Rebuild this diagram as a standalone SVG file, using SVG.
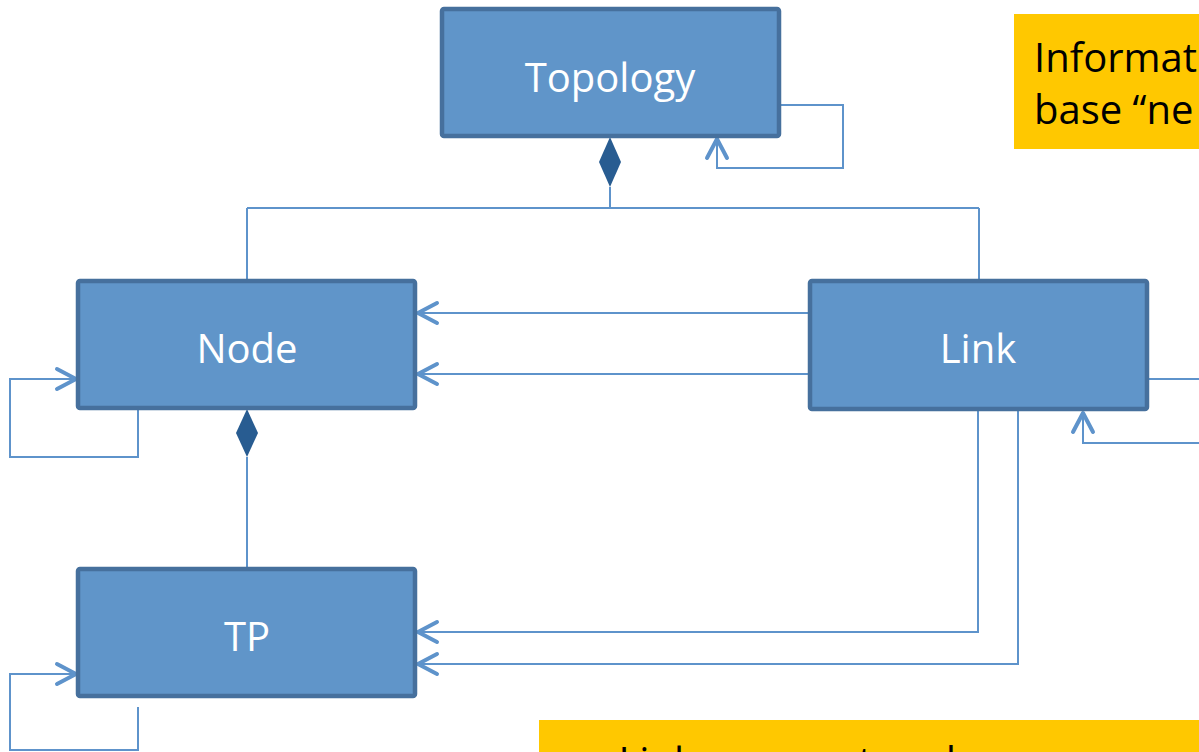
<svg xmlns="http://www.w3.org/2000/svg" width="1199" height="752" viewBox="0 0 1199 752">
<style>
.box{fill:#6095C9;stroke:#46709D;stroke-width:4.5}
.lbl{font-family:"Open Sans","Noto Sans",sans-serif;font-size:40px;fill:#FFFFFF;text-anchor:middle}
.note{fill:#FFC800}
.ntxt{font-family:"Open Sans","Noto Sans",sans-serif;font-size:40px;fill:#000000}
.conn{fill:none;stroke:#5E93CB;stroke-width:2}
.dia{fill:#285C91;stroke:none}
</style>
<defs>
<marker id="arr" markerUnits="userSpaceOnUse" markerWidth="30" markerHeight="30" viewBox="-25 -15 30 30" refX="0" refY="0" orient="auto">
<path d="M-19,-10 L0,0 L-19,10" fill="none" stroke="#5E93CB" stroke-width="4" stroke-linecap="round" stroke-linejoin="round"/>
</marker>
</defs>
<rect class="note" x="1014" y="14" width="190" height="135"/>
<text class="ntxt" x="1034" y="72">Informat</text>
<text class="ntxt" x="1034" y="124">base “ne</text>
<rect class="note" x="539" y="720" width="665" height="40"/>
<text class="ntxt" x="588" y="776">– Links connect nodes</text>
<g id="connectors">
<path class="conn" d="M610,187 V208 M247,208 H979 M247,208 V280 M979,208 V280"/>
<path class="conn" d="M779,105 H843 V168 H717 V139" marker-end="url(#arr)"/>
<path class="conn" d="M138,409 V457 H10 V379 H76" marker-end="url(#arr)"/>
<path class="conn" d="M247,457 V568"/>
<path class="conn" d="M808,313 H418" marker-end="url(#arr)"/>
<path class="conn" d="M808,374 H418" marker-end="url(#arr)"/>
<path class="conn" d="M978,410 V632 H418" marker-end="url(#arr)"/>
<path class="conn" d="M1018,410 V664 H418" marker-end="url(#arr)"/>
<path class="conn" d="M138,707 V750 H10 V674 H76" marker-end="url(#arr)"/>
<path class="conn" d="M1148,379 H1199"/>
<path class="conn" d="M1199,443 H1083 V413" marker-end="url(#arr)"/>
<polygon class="dia" points="610,137 621,162 610,187 599,162"/>
<polygon class="dia" points="247,409 258,433 247,457 236,433"/>
</g>
<g id="topology">
<rect class="box" x="442" y="9" width="337" height="127" rx="2"/>
<text class="lbl" x="610" y="92">Topology</text>
</g>
<g id="node">
<rect class="box" x="78" y="281" width="337" height="127" rx="2"/>
<text class="lbl" x="247" y="363">Node</text>
</g>
<g id="link">
<rect class="box" x="810" y="281" width="337" height="128" rx="2"/>
<text class="lbl" x="978" y="363">Link</text>
</g>
<g id="tp">
<rect class="box" x="78" y="569" width="337" height="127" rx="2"/>
<text class="lbl" x="247" y="651">TP</text>
</g>
</svg>
